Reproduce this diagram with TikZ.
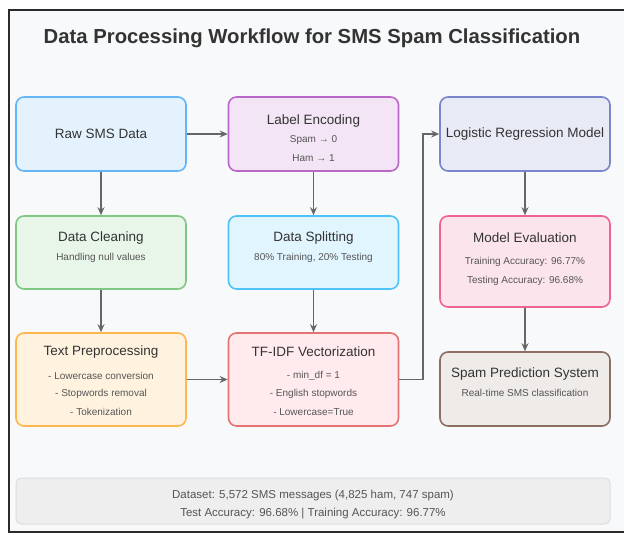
\documentclass[tikz,border=0pt]{standalone}
\usepackage{fontspec}
\setmainfont{Liberation Sans}
\usetikzlibrary{arrows.meta}

% palette
\definecolor{pageBg}{HTML}{F8F9FA}
\definecolor{frameC}{HTML}{2B2B2B}
\definecolor{inkC}{HTML}{333333}
\definecolor{subC}{HTML}{555555}
\definecolor{arrC}{HTML}{666666}
\definecolor{rawD}{HTML}{64B5F6}\definecolor{rawF}{HTML}{E3F2FD}
\definecolor{encD}{HTML}{BA68C8}\definecolor{encF}{HTML}{F3E5F5}
\definecolor{lrD}{HTML}{7986CB}\definecolor{lrF}{HTML}{E8EAF6}
\definecolor{clnD}{HTML}{81C784}\definecolor{clnF}{HTML}{E8F5E9}
\definecolor{splD}{HTML}{4FC3F7}\definecolor{splF}{HTML}{E1F5FE}
\definecolor{evD}{HTML}{F06292}\definecolor{evF}{HTML}{FCE4EC}
\definecolor{preD}{HTML}{FFB74D}\definecolor{preF}{HTML}{FFF3E0}
\definecolor{tfD}{HTML}{E57373}\definecolor{tfF}{HTML}{FFEBEE}
\definecolor{spD}{HTML}{8D6E63}\definecolor{spF}{HTML}{EFEBE9}
\definecolor{ftD}{HTML}{DDDDDD}\definecolor{ftF}{HTML}{EEEEEE}

\tikzset{
  card/.style 2 args={draw=#1, fill=#2, line width=1.6pt, rounded corners=8pt,
    minimum width=170pt, inner sep=0pt},
  head/.style={text=inkC, font=\fontsize{13.5}{15}\selectfont, inner sep=0pt},
  note/.style={text=subC, font=\fontsize{10}{11}\selectfont, inner sep=0pt},
  arr/.style={draw=arrC, line width=1.8pt, -{Stealth[length=8pt,width=7pt]}},
}

\begin{document}
\begin{tikzpicture}[x=1pt,y=-1pt]
\useasboundingbox (0,0) rectangle (624,535);

% page frame and background
\fill[pageBg] (9,10) rectangle (624,532);
\draw[frameC, line width=2.6pt] (624,10) -- (9,10) -- (9,532) -- (624,532);

\node[text=inkC, font=\bfseries\fontsize{20.3}{24}\selectfont] (title) at (312,38)
  {Data Processing Workflow for SMS Spam Classification};

% cards
\node[card={rawD}{rawF}, minimum height=74pt] (raw) at (101,134) {};
\node[card={encD}{encF}, minimum height=74pt] (enc) at (313.5,134) {};
\node[card={lrD}{lrF},   minimum height=74pt] (lr)  at (525,134) {};
\node[card={clnD}{clnF}, minimum height=73pt] (cln) at (101,252.5) {};
\node[card={splD}{splF}, minimum height=73pt] (spl) at (313.5,252.5) {};
\node[card={evD}{evF},   minimum height=91pt] (ev)  at (525,261.5) {};
\node[card={preD}{preF}, minimum height=93pt] (pre) at (101,379.5) {};
\node[card={tfD}{tfF},   minimum height=93pt] (tf)  at (313.5,379.5) {};
\node[card={spD}{spF},   minimum height=74pt] (sp)  at (525,389) {};
\node[draw=ftD, fill=ftF, line width=1pt, rounded corners=5pt,
      minimum width=594pt, minimum height=46pt, inner sep=0pt] (foot) at (313,501) {};

% card texts
\node[head] (rawT) at (101,134) {Raw SMS Data};

\node[head] (encT) at (313.5,121) {Label Encoding};
\node[note] (encA) at (313.5,140) {Spam → 0};
\node[note] (encB) at (313.5,158) {Ham → 1};

\node[head] (lrT) at (525,134) {Logistic Regression Model};

\node[head] (clnT) at (101,238) {Data Cleaning};
\node[note] (clnA) at (101,258) {Handling null values};

\node[head] (splT) at (313.5,238) {Data Splitting};
\node[note] (splA) at (313.5,258) {80\% Training, 20\% Testing};

\node[head] (evT) at (525,238) {Model Evaluation};
\node[note] (evA) at (525,262) {Training Accuracy: 96.77\%};
\node[note] (evB) at (525,281) {Testing Accuracy: 96.68\%};

\node[head] (preT) at (101,352) {Text Preprocessing};
\node[note] (preA) at (101,376) {- Lowercase conversion};
\node[note] (preB) at (101,394) {- Stopwords removal};
\node[note] (preC) at (101,412) {- Tokenization};

\node[head] (tfT) at (313.5,352) {TF-IDF Vectorization};
\node[note] (tfA) at (313.5,376) {- min\_df = 1};
\node[note] (tfB) at (313.5,394) {- English stopwords};
\node[note] (tfC) at (313.5,412) {- Lowercase=True};

\node[head] (spT) at (525,374) {Spam Prediction System};
\node[note] (spA) at (525,393) {Real-time SMS classification};

\node[note, font=\fontsize{11.5}{13}\selectfont] (ftA) at (313,496)
  {Dataset: 5,572 SMS messages (4,825 ham, 747 spam)};
\node[note, font=\fontsize{11.5}{13}\selectfont] (ftB) at (313,514)
  {Test Accuracy: 96.68\% | Training Accuracy: 96.77\%};

% connectors
\draw[arr] (raw.east) -- (enc.west);
\draw[arr] (raw.south) -- (cln.north);
\draw[arr] (cln.south) -- (pre.north);
\draw[arr] (enc.south) -- (spl.north);
\draw[arr] (spl.south) -- (tf.north);
\draw[arr] (pre.east) -- (tf.west);
\draw[arr] (tf.east) -- ++(24,0) |- (lr.west);
\draw[arr] (lr.south) -- (ev.north);
\draw[arr] (ev.south) -- (sp.north);
\end{tikzpicture}
\end{document}
